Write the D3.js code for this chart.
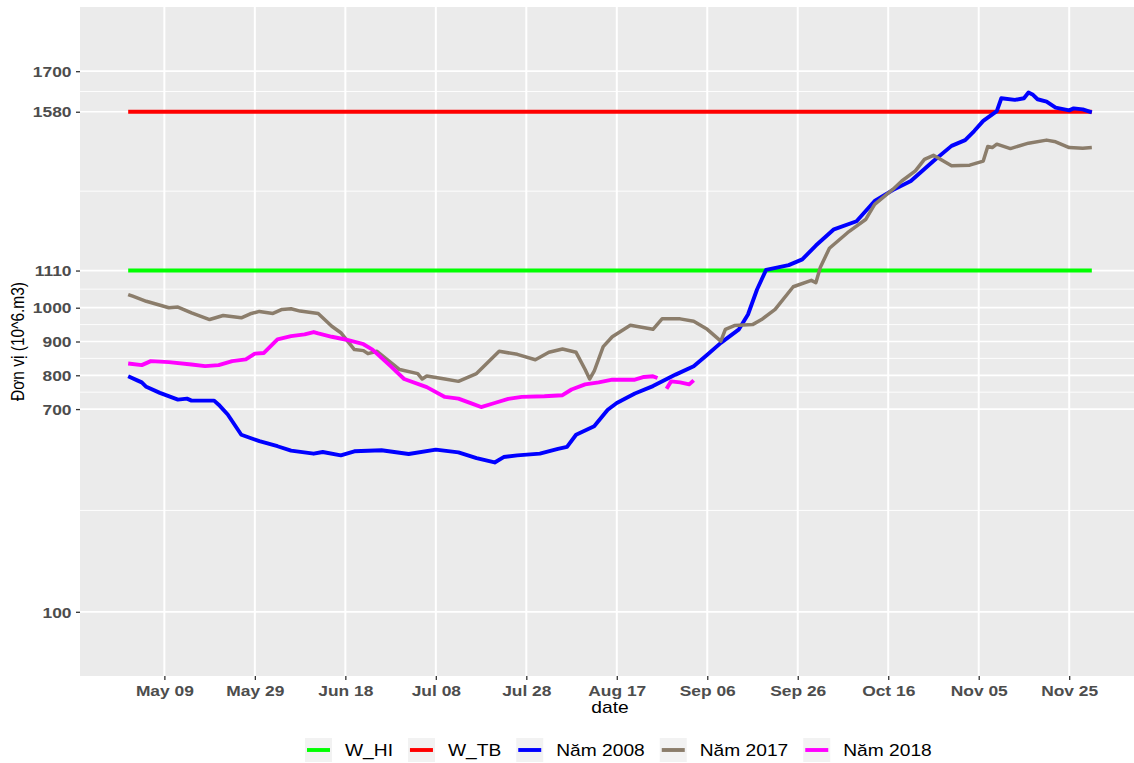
<!DOCTYPE html>
<html>
<head>
<meta charset="utf-8">
<script src="https://cdn.jsdelivr.net/npm/d3@7"></script>
<style>
  body { margin: 0; background: #fff; }
  svg { display: block; }
  text { font-family: "Liberation Sans", Arial, sans-serif; }
</style>
</head>
<body>
<svg id="chart" width="1134" height="763"></svg>
<script>
// ---- data ----
var firstDay = "05-01", lastDay = "11-30";
var levelHI = 1110, levelTB = 1580;

var dates2008 = ["05-01","05-03","05-04","05-05","05-08","05-12","05-14","05-15","05-20","05-21","05-23","05-26","05-30",
  "06-03","06-06","06-11","06-13","06-17","06-20","06-26","07-02","07-08","07-13","07-17","07-21","07-23","07-26","07-31",
  "08-04","08-06","08-08","08-12","08-15","08-17","08-21","08-25","08-30","09-03","09-06","09-09","09-13","09-15","09-17",
  "09-19","09-24","09-27","09-30","10-04","10-09","10-13","10-17","10-21","10-26","10-30","11-02","11-04","11-06","11-09",
  "11-10","11-13","11-15","11-16","11-17","11-18","11-20","11-22","11-25","11-26","11-28","11-30"];
var vals2008 = [797,785,779,766,748,728,731,725,725,713,684,624,605,
  590,577,568,573,563,575,578,567,580,572,555,542,558,563,568,
  582,588,624,649,698,718,746,768,802,827,861,896,936,980,1054,
  1112,1126,1143,1184,1232,1256,1316,1348,1375,1434,1479,1496,1523,1553,1582,
  1620,1615,1620,1637,1630,1617,1610,1592,1584,1590,1587,1578];

var dates2017 = ["05-01","05-02","05-05","05-10","05-12","05-15","05-19","05-22","05-26","05-28","05-30","06-02","06-04",
  "06-06","06-08","06-12","06-15","06-17","06-20","06-22","06-23","06-25","06-30","07-04","07-05","07-06","07-10","07-13",
  "07-17","07-22","07-26","07-30","08-02","08-05","08-08","08-10","08-11","08-12","08-14","08-16","08-20","08-25","08-27",
  "08-31","09-03","09-06","09-09","09-10","09-12","09-16","09-18","09-21","09-25","09-29","09-30","10-01","10-03","10-07",
  "10-11","10-13","10-17","10-19","10-22","10-24","10-26","10-30","11-03","11-06","11-07","11-08","11-09","11-12","11-16",
  "11-20","11-22","11-25","11-28","11-30"];
var vals2017 = [1039,1034,1019,1000,1002,985,965,977,970,982,989,983,995,
  997,990,983,945,926,876,873,864,871,817,805,789,798,789,782,
  805,871,862,846,868,878,868,817,789,812,885,914,948,936,967,
  967,960,936,901,936,947,950,965,995,1062,1081,1074,1120,1176,1222,
  1261,1306,1350,1375,1405,1439,1451,1420,1422,1434,1477,1474,1484,1471,1487,
  1496,1491,1474,1472,1474];

var dates2018 = ["05-01","05-04","05-06","05-10","05-15","05-18","05-21","05-24","05-27","05-29","05-31","06-03","06-06",
  "06-09","06-11","06-12","06-15","06-18","06-22","06-24","06-28","07-01","07-06","07-10","07-13","07-16","07-18","07-21",
  "07-24","07-27","08-01","08-05","08-07","08-10","08-13","08-16","08-21","08-23","08-25","08-26","08-27","08-28","08-29",
  "08-31","09-02","09-03"];
var vals2018 = [835,830,842,839,832,827,830,842,847,864,866,906,916,
  921,928,924,914,906,892,876,827,789,765,736,731,716,706,718,
  730,736,738,741,758,773,779,787,787,795,797,792,null,760,782,
  779,773,785];

var seriesNames = ["W_HI", "W_TB", "Năm 2008", "Năm 2017", "Năm 2018"],
    seriesColors = ["#00FF00", "#FF0000", "#0000FF", "#8B7D6B", "#FF00FF"];

var yTicks = [100, 700, 800, 900, 1000, 1110, 1580, 1700],
    yLimits = [0, 1800];
var xTickDays = ["05-09","05-29","06-18","07-08","07-28","08-17","09-06","09-26","10-16","11-05","11-25"];

// ---- setup ----
var svg = d3.select("#chart");
var panel = {left: 80, top: 7, right: 1140, bottom: 676};
var stretch = 1.2; // reference text is drawn a bit wide

var parseDay = d3.timeParse("%m-%d");
function toSeries(ds, vs) {
  return ds.map(function(d, i) { return {date: parseDay(d), value: vs[i]}; });
}

var d0 = parseDay(firstDay), d1 = parseDay(lastDay), pad = (d1 - d0) * 0.05;
var x = d3.scaleTime()
    .domain([new Date(+d0 - pad), new Date(+d1 + pad)])
    .range([panel.left, panel.right]);
var ySpan = yLimits[1] - yLimits[0];
var y = d3.scaleLinear()
    .domain([yLimits[0] - ySpan * 0.05, yLimits[1] + ySpan * 0.05])
    .range([panel.bottom, panel.top]);

var series = [
  toSeries([firstDay, lastDay], [levelHI, levelHI]),
  toSeries([firstDay, lastDay], [levelTB, levelTB]),
  toSeries(dates2008, vals2008),
  toSeries(dates2017, vals2017),
  toSeries(dates2018, vals2018)
];

// panel background
svg.append("rect")
    .attr("x", panel.left).attr("y", panel.top)
    .attr("width", panel.right - panel.left).attr("height", panel.bottom - panel.top)
    .attr("fill", "#EBEBEB");

// grid
var grid = svg.append("g");
var yMinor = d3.pairs(yTicks).map(function(p) { return (p[0] + p[1]) / 2; });
grid.selectAll(".minor").data(yMinor).enter().append("line")
    .attr("x1", panel.left).attr("x2", panel.right)
    .attr("y1", function(d) { return y(d); }).attr("y2", function(d) { return y(d); })
    .attr("stroke", "#fff").attr("stroke-width", 0.9);
grid.selectAll(".major").data(yTicks).enter().append("line")
    .attr("x1", panel.left).attr("x2", panel.right)
    .attr("y1", function(d) { return y(d); }).attr("y2", function(d) { return y(d); })
    .attr("stroke", "#fff").attr("stroke-width", 1.7);
var xTicks = xTickDays.map(parseDay);
grid.selectAll(".vmajor").data(xTicks).enter().append("line")
    .attr("x1", function(d) { return x(d); }).attr("x2", function(d) { return x(d); })
    .attr("y1", panel.top).attr("y2", panel.bottom)
    .attr("stroke", "#fff").attr("stroke-width", 2);

// lines
var line = d3.line()
    .defined(function(d) { return d.value != null; })
    .x(function(d) { return x(d.date); })
    .y(function(d) { return y(d.value); });

svg.append("g").selectAll("path")
    .data(series)
  .enter().append("path")
    .attr("d", line)
    .attr("fill", "none")
    .attr("stroke", function(d, i) { return seriesColors[i]; })
    .attr("stroke-width", function(d, i) { return i == 3 ? 3.5 : 3.9; })
    .attr("stroke-linejoin", "round");

// axes
var xAxis = svg.append("g")
    .attr("transform", "translate(0," + panel.bottom + ")")
    .call(d3.axisBottom(x).tickValues(xTicks).tickFormat(d3.timeFormat("%b %d")).tickSize(4));
var yAxis = svg.append("g")
    .attr("transform", "translate(" + panel.left + ",0)")
    .call(d3.axisLeft(y).tickValues(yTicks).tickFormat(d3.format("d")).tickSize(4));

[xAxis, yAxis].forEach(function(ax) {
  ax.select(".domain").remove();
  ax.selectAll(".tick line").attr("stroke", "#333").attr("stroke-width", 1.3);
  ax.selectAll(".tick text")
      .attr("fill", "#4D4D4D")
      .style("font-size", "14.5px")
      .style("font-weight", "bold");
});
xAxis.selectAll(".tick text")
    .attr("y", 20).attr("dy", 0)
    .attr("transform", "scale(" + stretch + ",1)");
yAxis.selectAll(".tick text")
    .attr("x", -8.5 / stretch).attr("dy", "0.36em")
    .attr("transform", "scale(" + stretch + ",1)");

// axis titles
svg.append("text")
    .attr("transform", "translate(" + ((panel.left + panel.right) / 2) + ",713) scale(" + stretch + ",1)")
    .attr("text-anchor", "middle")
    .style("font-size", "16px")
    .text("date");
svg.append("text")
    .attr("transform", "translate(24," + ((panel.top + panel.bottom) / 2) + ") scale(" + stretch + ",1) rotate(-90)")
    .attr("text-anchor", "middle")
    .style("font-size", "15.5px")
    .text("Đơn vị (10^6.m3)");

// legend
var lx = 305, ly = 750;
seriesNames.forEach(function(name, i) {
  var g = svg.append("g").attr("transform", "translate(" + lx + "," + ly + ")");
  g.append("rect")
      .attr("x", 0).attr("y", -12).attr("width", 27).attr("height", 24)
      .attr("fill", "#F2F2F2");
  g.append("line")
      .attr("x1", 2).attr("x2", 25).attr("y1", 0).attr("y2", 0)
      .attr("stroke", seriesColors[i]).attr("stroke-width", 3.9);
  var t = g.append("text")
      .attr("transform", "translate(40,0) scale(" + stretch + ",1)")
      .attr("dy", "0.36em")
      .style("font-size", "16px")
      .text(name);
  lx += 40 + t.node().getComputedTextLength() * stretch + 15;
});
</script>
</body>
</html>
